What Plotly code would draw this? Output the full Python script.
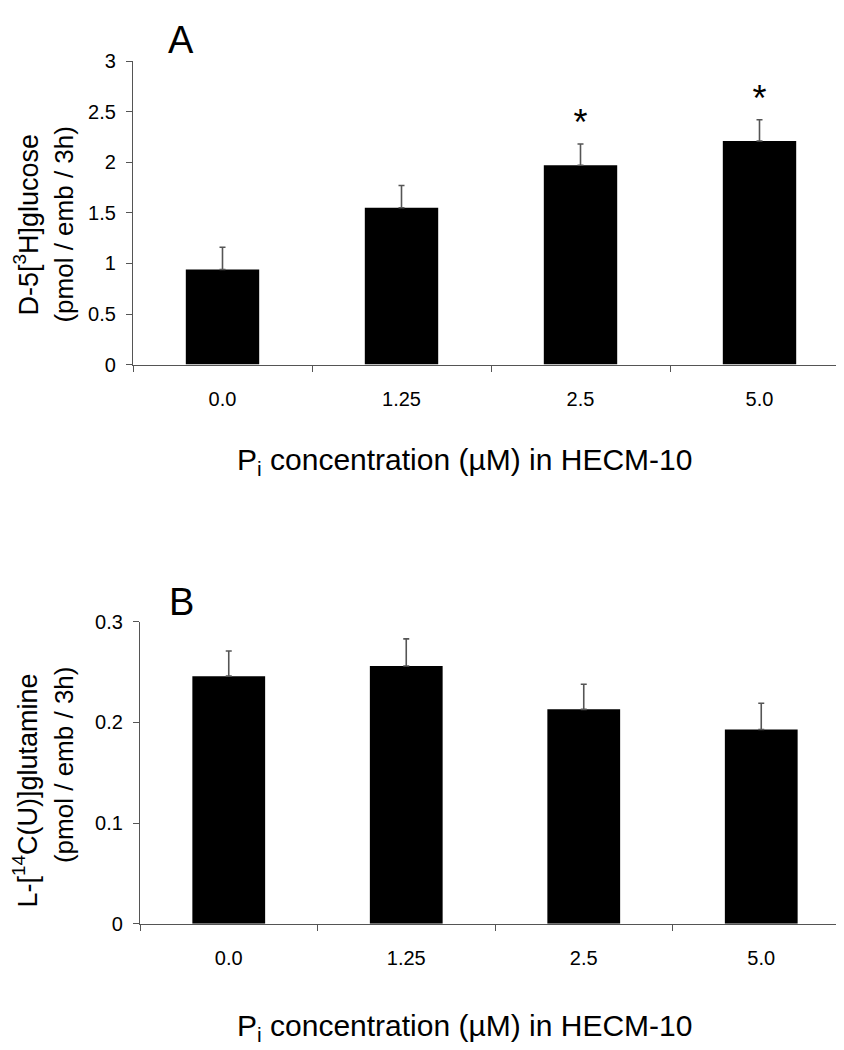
import plotly.graph_objects as go

# ---- data ----
categories = ["0.0", "1.25", "2.5", "5.0"]
glucose_mean = [0.94, 1.55, 1.97, 2.21]
glucose_sem = [0.22, 0.22, 0.21, 0.21]
glucose_sig = ["", "", "*", "*"]
glutamine_mean = [0.246, 0.256, 0.213, 0.193]
glutamine_sem = [0.025, 0.027, 0.025, 0.026]
y1_ticks = [0, 0.5, 1, 1.5, 2, 2.5, 3]
y2_ticks = [0, 0.1, 0.2, 0.3]

W, H = 844, 1050
TEXTFONT = "Liberation Sans, Arial, Helvetica, sans-serif"
TICKFONT = dict(family=TEXTFONT, size=20, color="black")
AXC = "#555555"

fig = go.Figure()
fig.add_trace(go.Bar(
    x=categories, y=glucose_mean, width=0.41, marker=dict(color="black", line=dict(width=0)),
    error_y=dict(type="data", symmetric=False, array=glucose_sem, arrayminus=[0]*4,
                 color="#555555", thickness=1.6, width=3),
    xaxis="x", yaxis="y"))
fig.add_trace(go.Bar(
    x=categories, y=glutamine_mean, width=0.41, marker=dict(color="black", line=dict(width=0)),
    error_y=dict(type="data", symmetric=False, array=glutamine_sem, arrayminus=[0]*4,
                 color="#555555", thickness=1.6, width=3),
    xaxis="x2", yaxis="y2"))

# significance stars (text marks on the category axis)
fig.add_trace(go.Scatter(
    x=categories, y=[m + s for m, s in zip(glucose_mean, glucose_sem)],
    mode="text", text=glucose_sig, textposition="top center",
    textfont=dict(family=TEXTFONT, size=36, color="black"),
    hoverinfo="skip", xaxis="x", yaxis="y"))

axis_common = dict(showline=True, linecolor=AXC, linewidth=1.2, ticks="outside",
                   tickcolor=AXC, ticklen=6, tickwidth=1.2, showgrid=False, zeroline=False,
                   tickfont=TICKFONT)

fig.update_layout(
    width=W, height=H, margin=dict(l=0, r=0, t=0, b=0),
    paper_bgcolor="white", plot_bgcolor="white", showlegend=False,
    xaxis=dict(domain=[125/W, 841/W], type="category", tickson="boundaries",
               range=[-0.5, 3.5], ticklabelstandoff=16, anchor="y", **axis_common),
    yaxis=dict(domain=[1-353/H, 1-43/H], range=[0, 3], tickvals=y1_ticks,
               ticklabelstandoff=6, anchor="x", **axis_common),
    xaxis2=dict(domain=[132/W, 842/W], type="category", tickson="boundaries",
                range=[-0.5, 3.5], ticklabelstandoff=16, anchor="y2", **axis_common),
    yaxis2=dict(domain=[1-924/H, 1-615.7/H], range=[0, 0.3], tickvals=y2_ticks,
                ticklabelstandoff=6, anchor="x2", **axis_common),
)

def ann(text, x, y, size, angle=0, xanchor="center", yanchor="middle"):
    fig.add_annotation(x=x / W, y=1 - y / H, xref="paper", yref="paper", text=text,
                       showarrow=False, textangle=angle, xanchor=xanchor, yanchor=yanchor,
                       font=dict(family=TEXTFONT, size=size, color="black"))

# panel letters
ann("A", 173, 21, 38)
ann("B", 173, 595, 38)

# x-axis titles
xtitle = "P<sub>i</sub> concentration (\u00b5M) in HECM-10"
ann(xtitle, 456, 452, 30)
ann(xtitle, 456, 1030, 30)

# y-axis titles
ann("D-5[<sup>3</sup>H]glucose", 18, 210, 27, angle=-90)
ann("(pmol / emb / 3h)", 56, 210, 26, angle=-90)
ann("L-[<sup>14</sup>C(U)]glutamine", 18, 788, 27, angle=-90)
ann("(pmol / emb / 3h)", 56, 762, 26, angle=-90)

fig.write_html("out.html")
